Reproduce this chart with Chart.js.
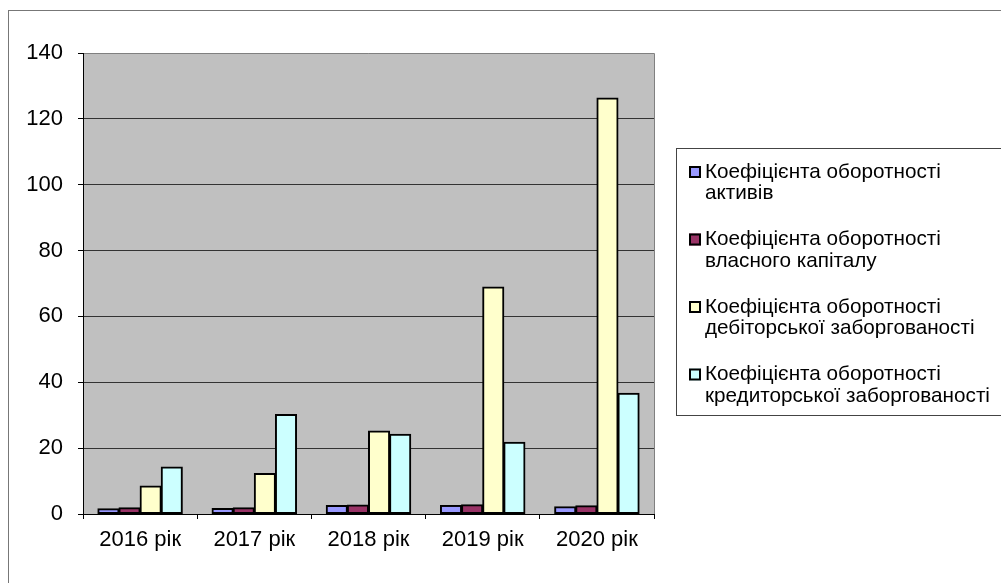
<!DOCTYPE html>
<html>
<head>
<meta charset="utf-8">
<script src="https://cdn.jsdelivr.net/npm/chart.js@4.4.0/dist/chart.umd.min.js"></script>
<style>
  html, body { margin: 0; padding: 0; background: #fff; overflow: hidden; }
  #wrap { width: 1001px; height: 583px; }
</style>
</head>
<body>
<div id="wrap"><canvas id="chartKoef" width="1001" height="583"></canvas></div>
<script>
  const years = ["2016 рік", "2017 рік", "2018 рік", "2019 рік", "2020 рік"];
  const seriesNames = [
    ["Коефіцієнта оборотності", "активів"],
    ["Коефіцієнта оборотності", "власного капіталу"],
    ["Коефіцієнта оборотності", "дебіторської заборгованості"],
    ["Коефіцієнта оборотності", "кредиторської заборгованості"]
  ];
  const aktyviv = [1.6, 1.7, 2.6, 2.6, 2.2];
  const vlasnogo = [1.9, 1.9, 2.7, 2.8, 2.5];
  const debitorskoi = [8.5, 12.3, 25.2, 68.9, 126.3];
  const kredytorskoi = [14.3, 30.2, 24.2, 21.8, 36.7];
  const yTicks = [0, 20, 40, 60, 80, 100, 120, 140];
  const colors = ["#9999ff", "#993366", "#ffffcc", "#ccffff"];

  const FONT = "'Liberation Sans', Arial, sans-serif";

  // gray plot area + outer frame
  const backdrop = {
    id: "backdrop",
    beforeDraw(chart) {
      const { ctx, chartArea: a } = chart;
      ctx.save();
      ctx.strokeStyle = "#777";
      ctx.lineWidth = 1;
      ctx.strokeRect(8.5, 10.5, 1100, 700);
      ctx.fillStyle = "#c0c0c0";
      ctx.fillRect(a.left, a.top, a.right - a.left, a.bottom - a.top);
      ctx.strokeStyle = "#808080";
      ctx.beginPath();
      ctx.moveTo(a.left, a.top + 0.5);
      ctx.lineTo(a.right + 0.5, a.top + 0.5);
      ctx.lineTo(a.right + 0.5, a.bottom);
      ctx.stroke();
      ctx.restore();
    }
  };

  // legend with two-line labels
  const sideLegend = {
    id: "sideLegend",
    afterDraw(chart) {
      const { ctx } = chart;
      ctx.save();
      ctx.strokeStyle = "#444";
      ctx.lineWidth = 1;
      ctx.strokeRect(676.5, 148.5, 400, 267);
      ctx.font = "20.7px " + FONT;
      ctx.textBaseline = "middle";
      chart.data.datasets.forEach((ds, i) => {
        const y = 172 + i * 67.5;
        ctx.fillStyle = ds.backgroundColor;
        ctx.fillRect(689, y - 6, 12, 12);
        ctx.strokeStyle = "#000";
        ctx.lineWidth = 2;
        ctx.strokeRect(690, y - 5, 10, 10);
        ctx.fillStyle = "#000";
        ds.label.forEach((line, j) => ctx.fillText(line, 705, y + j * 21.5));
      });
      ctx.restore();
    }
  };

  const allSeries = [aktyviv, vlasnogo, debitorskoi, kredytorskoi];

  new Chart(document.getElementById("chartKoef").getContext("2d"), {
    type: "bar",
    data: {
      labels: years,
      datasets: allSeries.map((vals, i) => ({
        label: seriesNames[i],
        data: vals,
        backgroundColor: colors[i],
        borderColor: "#000",
        borderWidth: 2,
        borderSkipped: false,
        inflateAmount: 0.5,
        categoryPercentage: 0.74,
        barPercentage: 1.0
      }))
    },
    options: {
      responsive: false,
      animation: false,
      layout: { padding: { top: 53, right: 347, bottom: 0, left: 0 } },
      plugins: { legend: { display: false }, tooltip: { enabled: false } },
      scales: {
        x: {
          afterFit: s => { s.height = 69; },
          grid: { drawOnChartArea: false, offset: true, tickLength: 5, color: "#000" },
          border: { color: "#000", width: 1 },
          ticks: { color: "#000", font: { family: FONT, size: 22 }, padding: 8 }
        },
        y: {
          min: 0,
          max: 140,
          afterFit: s => { s.width = 83; },
          afterBuildTicks: s => { s.ticks = yTicks.map(v => ({ value: v })); },
          grid: {
            tickLength: 5,
            tickColor: "#000",
            color: c => (c.tick && c.tick.value === 140 ? "rgba(0,0,0,0)" : "#333")
          },
          border: { color: "#000", width: 1 },
          ticks: { color: "#000", font: { family: FONT, size: 22 }, padding: 15 }
        }
      }
    },
    plugins: [backdrop, sideLegend]
  });
</script>
</body>
</html>
